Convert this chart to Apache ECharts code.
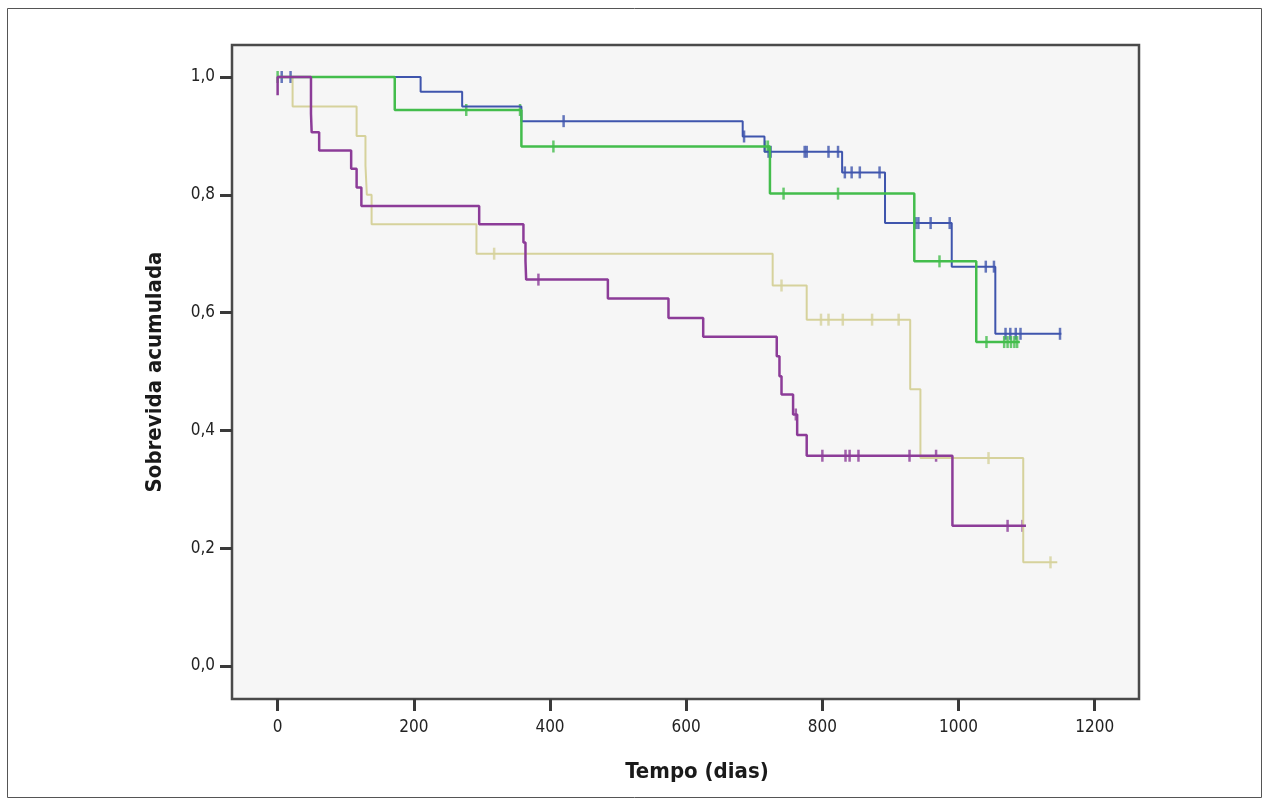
<!DOCTYPE html>
<html>
<head>
<meta charset="utf-8">
<script src="https://cdn.jsdelivr.net/npm/echarts@6/dist/echarts.min.js"></script>
<style>
html,body{margin:0;padding:0;background:#fff;}
#c{width:1267px;height:804px;}
</style>
</head>
<body>
<div id="c"></div>
<script>
// ---- data ----
const xTicks = [0, 200, 400, 600, 800, 1000, 1200];
const yTicks = [0, 0.2, 0.4, 0.6, 0.8, 1.0];
const xTitle = 'Tempo (dias)';
const yTitle = 'Sobrevida acumulada';

// yellow (khaki) group
const yelTimes = [0, 22, 116, 129, 131, 138, 292, 727, 777, 929, 944, 1095, 1145];
const yelSurv  = [1.0, 0.95, 0.90, 0.85, 0.80, 0.75, 0.70, 0.646, 0.588, 0.470, 0.353, 0.176, 0.176];
const yelCensT = [318, 740, 798, 809, 830, 873, 912, 1044, 1135];
const yelCensS = [0.70, 0.646, 0.588, 0.588, 0.588, 0.588, 0.588, 0.353, 0.176];

// blue group
const bluTimes = [0, 210, 271, 358, 683, 715, 829, 892, 990, 1054, 1151];
const bluSurv  = [1.0, 0.975, 0.95, 0.925, 0.899, 0.873, 0.838, 0.752, 0.678, 0.564, 0.564];
const bluCensT = [6, 19, 420, 685, 721, 724, 774, 777, 809, 823, 833, 843, 855, 884, 937, 941, 959, 987, 1040, 1052, 1069, 1076, 1084, 1091, 1149];
const bluCensS = [1.0, 1.0, 0.925, 0.899, 0.873, 0.873, 0.873, 0.873, 0.873, 0.873, 0.838, 0.838, 0.838, 0.838, 0.752, 0.752, 0.752, 0.752, 0.678, 0.678, 0.564, 0.564, 0.564, 0.564, 0.564];

// green group
const grnTimes = [0, 172, 358, 723, 935, 1026, 1090];
const grnSurv  = [1.0, 0.944, 0.882, 0.802, 0.687, 0.550, 0.550];
const grnCensT = [0, 277, 356, 405, 716, 720, 743, 823, 972, 1041, 1067, 1072, 1077, 1082, 1086];
const grnCensS = [1.0, 0.944, 0.944, 0.882, 0.882, 0.882, 0.802, 0.802, 0.687, 0.550, 0.550, 0.550, 0.550, 0.550, 0.550];

// purple group
const purTimes = [0, 0, 49, 50, 61, 108, 116, 123, 296, 361, 364, 365, 485, 574, 625, 733, 737, 740, 757, 763, 777, 991, 1099];
const purSurv  = [0.969, 1.0, 0.9375, 0.906, 0.875, 0.844, 0.8125, 0.781, 0.75, 0.719, 0.6875, 0.656, 0.624, 0.591, 0.559, 0.526, 0.492, 0.461, 0.427, 0.392, 0.357, 0.238, 0.238];
const purCensT = [383, 761, 800, 834, 840, 853, 928, 967, 1072, 1094];
const purCensS = [0.656, 0.427, 0.357, 0.357, 0.357, 0.357, 0.357, 0.357, 0.238, 0.238];

const colors = { yel: '#d6d29c', blu: '#3f55ad', grn: '#43bd4c', pur: '#8c3c98' };

// ---- build ----
const zip = (a, b) => a.map((v, i) => [v, b[i]]);
const FONT = "'Liberation Sans Narrow', 'Arial Narrow', 'DejaVu Sans Condensed', sans-serif";

function km(name, t, s, color, w) {
  return {
    name, type: 'line', step: 'end', data: zip(t, s), showSymbol: false,
    lineStyle: { color, width: w }, itemStyle: { color }, animation: false, silent: true
  };
}
function cens(name, t, s, color) {
  return {
    name: name + ' c', type: 'scatter', data: zip(t, s), symbol: 'rect',
    symbolSize: [2.5, 12], itemStyle: { color }, animation: false, silent: true
  };
}

const chart = echarts.init(document.getElementById('c'), null, { renderer: 'canvas' });
chart.setOption({
  backgroundColor: '#ffffff',
  animation: false,
  grid: {
    left: 232, top: 45, width: 907, height: 654, show: true,
    backgroundColor: '#f6f6f6', borderColor: '#4a4a4a', borderWidth: 2.5
  },
  xAxis: {
    type: 'value', min: -67, max: 1265,
    axisLine: { show: false, onZero: false },
    splitLine: { show: false },
    axisTick: { show: true, inside: false, customValues: xTicks, length: 12, lineStyle: { color: '#3a3a3a', width: 3 } },
    axisLabel: { customValues: xTicks, margin: 20, fontSize: 17, color: '#222', fontFamily: FONT, formatter: v => String(v) }
  },
  yAxis: {
    type: 'value', min: -0.056, max: 1.0543,
    axisLine: { show: false, onZero: false },
    splitLine: { show: false },
    axisTick: { show: true, inside: false, customValues: yTicks, length: 12, lineStyle: { color: '#3a3a3a', width: 3 } },
    axisLabel: {
      customValues: yTicks, margin: 17, fontSize: 17, color: '#222', fontFamily: FONT,
      formatter: v => v.toFixed(1).replace('.', ',')
    }
  },
  graphic: [
    { type: 'rect', shape: { x: 7.5, y: 8.5, width: 1254, height: 789 }, style: { fill: 'none', stroke: '#555', lineWidth: 1 }, z: -10, silent: true },
    { type: 'text', x: 697, y: 772, style: { text: xTitle, fontSize: 22, fontWeight: 'bold', fontFamily: FONT, fill: '#1a1a1a', align: 'center', verticalAlign: 'middle' } },
    { type: 'text', x: 155, y: 372, rotation: Math.PI / 2, style: { text: yTitle, fontSize: 22, fontWeight: 'bold', fontFamily: FONT, fill: '#1a1a1a', align: 'center', verticalAlign: 'middle' } }
  ],
  series: [
    km('yel', yelTimes, yelSurv, colors.yel, 2),
    cens('yel', yelCensT, yelCensS, colors.yel),
    km('blu', bluTimes, bluSurv, colors.blu, 2),
    cens('blu', bluCensT, bluCensS, colors.blu),
    km('grn', grnTimes, grnSurv, colors.grn, 2.5),
    cens('grn', grnCensT, grnCensS, colors.grn),
    km('pur', purTimes, purSurv, colors.pur, 2.5),
    cens('pur', purCensT, purCensS, colors.pur)
  ]
});
</script>
</body>
</html>
